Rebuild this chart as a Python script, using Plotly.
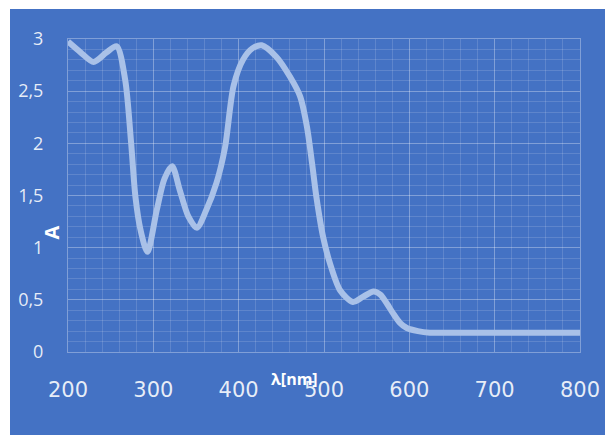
import plotly.graph_objects as go

wavelength = [200, 215, 230, 245, 257, 267, 274, 279, 285, 293, 304, 313, 322, 331, 341, 351, 362,
              374, 384, 394, 405, 416, 427, 444, 460, 472, 480, 486, 491, 499, 507, 519, 534, 546,
              558, 566, 574, 581, 589, 597, 610, 624, 640, 700, 800]
absorbance = [2.975, 2.87, 2.78, 2.87, 2.93, 2.61, 2.0, 1.49, 1.17, 0.96, 1.36, 1.66, 1.78, 1.55, 1.30, 1.19, 1.36,
              1.62, 1.96, 2.55, 2.80, 2.91, 2.94, 2.83, 2.64, 2.45, 2.16, 1.81, 1.49, 1.10, 0.85, 0.59, 0.48, 0.53,
              0.58, 0.55, 0.46, 0.37, 0.28, 0.23, 0.20, 0.185, 0.185, 0.185, 0.185]

x_title = "λ[nm]"
y_title = "A"

W, H = 605, 435
L, R, T, B = 68, 25, 39, 83
pw, ph = W - L - R, H - T - B

def px_x(p):
    return (p - L) / pw

def px_y(p):
    return (H - B - p) / ph

BLUE = "#4472C4"
major = "rgba(255,255,255,0.32)"
minor = "rgba(255,255,255,0.14)"

fig = go.Figure()
fig.add_trace(go.Scatter(
    x=wavelength, y=absorbance, mode="lines",
    line=dict(color="#a9c1e8", width=6, shape="spline", smoothing=0.8),
    hoverinfo="skip", showlegend=False))

fig.add_shape(type="rect", xref="paper", yref="paper", layer="below",
              x0=px_x(10), x1=px_x(W + 5), y0=px_y(H + 5), y1=px_y(9),
              fillcolor=BLUE, line=dict(width=0))

fig.update_xaxes(range=[200, 800], dtick=100, tick0=200, showgrid=True, gridcolor=major, gridwidth=1,
                 minor=dict(dtick=20, showgrid=True, gridcolor=minor, gridwidth=1),
                 showline=True, linecolor=major, mirror=True, zeroline=False, ticks="",
                 tickfont=dict(family="DejaVu Sans", size=21, color="rgba(255,255,255,0.88)"),
                 ticklabelstandoff=19, automargin=False)
fig.update_yaxes(range=[0, 3], dtick=0.5, tick0=0, showgrid=True, gridcolor=major, gridwidth=1,
                 minor=dict(dtick=0.1, showgrid=True, gridcolor=minor, gridwidth=1),
                 showline=True, linecolor=major, mirror=True, zeroline=False, ticks="",
                 tickfont=dict(family="Open Sans", size=18, color="rgba(255,255,255,0.88)"),
                 ticklabelstandoff=20, automargin=False)

fig.add_annotation(text=y_title, xref="paper", yref="paper", x=px_x(35), y=px_y(233),
                   showarrow=False, textangle=-90,
                   font=dict(family="Open Sans", size=20, color="white", weight="bold"))
fig.add_annotation(text=x_title, xref="paper", yref="paper", x=px_x(294), y=px_y(392),
                   showarrow=False,
                   font=dict(family="Open Sans", size=16, color="white", weight="bold"))

fig.update_layout(width=W, height=H, margin=dict(l=L, r=R, t=T, b=B, autoexpand=False),
                  paper_bgcolor="white", plot_bgcolor="rgba(0,0,0,0)",
                  separators=",.", showlegend=False)

fig.write_html("out.html")
